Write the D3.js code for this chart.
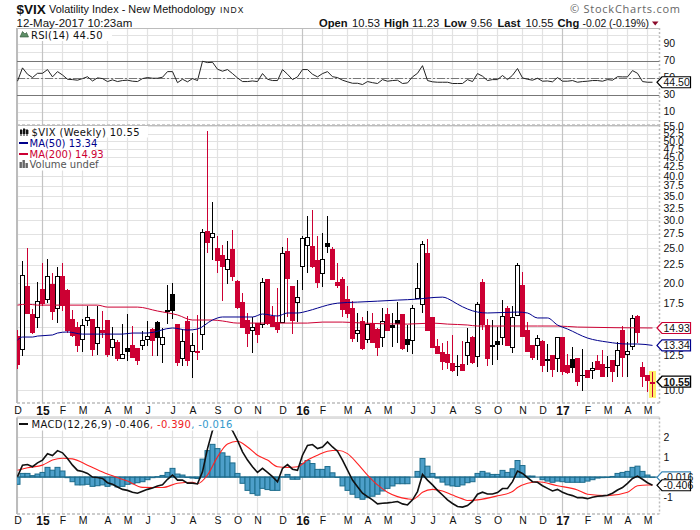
<!DOCTYPE html>
<html>
<head>
<meta charset="utf-8">
<script src="https://cdn.jsdelivr.net/npm/d3@7"></script>
<style>
html,body{margin:0;padding:0;background:#fff}
svg{display:block}
text{font-family:"Liberation Sans",Arial,sans-serif;fill:#111}
.leg{font-family:"DejaVu Sans",sans-serif;font-size:10px}
</style>
</head>
<body>
<svg id="c" width="700" height="530"></svg>
<script>
// ---------- DATA (weekly candles, Dec 2014 .. May 2017) ----------
const opens=[14.17,13.03,19.57,16.3,16,19.2,18,19.9,17,20.9,19.1,15.8,15,13.9,15.7,15.8,13.55,14.7,15.7,13.2,13.6,12.3,13.1,13.35,13.1,13.35,13.9,14.8,15.5,13.45,16.8,18.6,15.3,12.3,15.6,12.85,12.85,14.35,28,26.9,25,23.9,21.9,24.9,20.2,17.7,15.7,14.7,15.4,15.3,20.5,16.1,15.5,15.5,24.5,19.6,17.65,22.4,25.5,25.4,23.2,21.3,25.9,24.9,20.1,20.5,18,17,14.45,15.6,13.9,15.4,14.8,14.1,16.3,15.2,15.7,16.3,13.9,13.8,18.1,17.4,24.2,16,13.3,12.8,12.6,11.9,11.7,11.8,12.5,14.1,12.45,20.1,15.2,13.35,13.7,14.1,17,13.2,16.2,19.7,14.7,13.35,13.35,13.7,12.2,12.5,12.3,14.1,11.75,12.2,12.3,11.05,11.4,11.4,12.05,11.8,11.6,12.15,11.75,14.7,12.6,13.3,16.1,11.6,11,10.53];
const closes=[11.75,21,16.34,14.45,17.75,17.43,20.9,16.6,20.9,17.2,14.6,14.2,13.3,15.2,16,12.95,15,14.45,12.5,13.9,12.2,12.6,12.8,12.3,12.05,13.8,14.2,13.7,14,14.05,16.6,16.65,11.9,13.7,12.05,13.35,12.7,27.75,25.9,27.6,23,22.1,23.4,20.75,16.95,14.9,14.35,15,14.25,20.1,15.3,15,14.7,24.2,20.5,15.6,18.2,26.8,26.9,22.1,20,23.3,25.2,20.35,19.6,16.8,16.35,13.9,14.7,13,15.3,13.55,13.1,15.6,14.6,14.95,15.3,13,13.35,17,19.3,25.7,14.6,13.1,12.6,12,11.9,11.3,11.6,11.3,13.6,11.9,17.4,15.2,12.2,13.3,13.35,16.1,13.3,16,22.4,14.1,12.8,12.3,14,11.7,12.1,11.4,14.1,11.25,11.15,11.55,10.5,10.98,10.8,11.55,11.4,10.9,11.55,11.25,12.95,12.3,12.85,15.9,14.5,10.9,10.57,10.55];
const highs=[14.73,23,25,16.9,20.1,22.8,23.3,21.3,22.1,22.7,19.2,16.8,15.5,15.8,17.2,15.8,17.2,16.7,15.7,15,13.8,15.3,16.3,15.1,13.1,14.6,15.6,14.9,15.6,14.9,19.7,20,15.3,14.7,16.1,14.5,16.2,28.3,53.3,33.7,27.1,25.5,26.2,28.1,20.3,18.7,16.5,16,15.4,20.6,20.5,17.2,19.3,25.2,26.7,19.6,20.35,27,30.8,32,27.1,27.6,30.8,25.2,22.8,20.7,19.6,17.8,16.4,16,16.65,16.5,14.9,17,17,16.5,17.65,16.3,15.2,17.3,22.8,26.2,26.5,16,13.9,13.55,13.7,14.25,12.5,13.7,14.9,14.15,17.65,20.5,15.8,15.7,15,17.9,17.2,17.2,22.8,21.4,15.5,13.4,14.25,13.8,13.45,12.5,14.1,14.1,12.6,13.2,12.3,13,11.4,12,12.5,12.95,12.45,12.15,13.6,15.1,13.6,16.2,16.2,12,11,11.23];
const lows=[11.45,12.45,16.34,14.35,14.9,17.2,17.5,15.7,15.4,16.7,14.5,14.1,12.8,12.8,15.1,12.45,12.5,14,12.4,12.45,12.05,12.3,12.05,12.3,11.75,12.95,13.3,12.45,12.45,11.9,15.3,15.8,11.7,11.7,11.7,10.8,12.15,12.95,24.2,23.2,21.3,17.8,19.8,20.2,16.9,14.9,13.2,12.7,13.55,14.9,15.2,15,14.5,15.5,16,14.35,15.5,19.1,21.3,22,19.3,19.5,24.2,20.3,19.3,16,15.9,13.6,13.6,12.95,13.55,13.55,12.45,13.2,14.6,13.2,13.55,12.95,12.8,12.6,18.1,16.4,14.6,13.1,12.6,11.4,11.45,11.2,10.95,11.3,11.75,11.85,11.6,14.7,11.7,11.75,12.15,13.35,13.3,12.7,16.1,14.1,12.8,12.15,12.15,11.25,11.25,10.9,11.25,11,11.1,11.15,10.25,9.95,10.8,10.75,11.4,10.9,10.9,10.5,10.9,10.9,10.9,12.95,13.55,10.2,9.85,9.56];

const ma50Idx=[0,1,3,4,7,8,10,13,18,21,23,26,31,34,36,39,41,47,49,52,54,56,58,60,62,64,68,72,76,80,82,85,87,88,92,94,100,102,104,106,108,110,114,118,122,124,127];
const ma50Val=[13.81,14.08,14.08,14.17,14.27,14.45,14.55,14.35,14.35,14.35,14.45,14.45,14.93,14.73,14.83,15.72,16.03,16.03,16.34,16.13,16.45,16.45,16.66,16.98,17.31,17.53,17.65,17.76,17.88,18,18.12,18.23,17.76,17.42,16.55,16.45,16.55,16.45,15.93,15.93,15.22,14.83,13.99,13.63,13.46,13.46,13.34];
const ma200Idx=[0,2,4,16,18,24,28,32,35,39,41,44,46,50,58,61,65,69,78,83,86,90,92,98,104,108,112,127];
const ma200Val=[17.31,17.42,17.31,17.31,17.09,17.09,16.66,16.24,15.72,15.72,15.62,15.41,15.41,15.41,15.41,15.51,15.51,15.41,15.31,15.41,15.31,15.22,15.12,15.12,15.12,15.12,15.02,14.93];

const rsiVal=[45.7,61.4,53.9,50,55,55,59.4,50.8,57,53,48,47.6,46.9,48.8,51,46,49.6,48.8,45.3,47.3,45.3,46.5,46.9,45.7,45.3,48.8,50,49.2,49.2,50.4,57,57,44,48,45,48.8,46.5,69.2,67.6,68,59.8,57.5,59.4,54.7,49.6,45.3,45.3,46,45.3,54.7,48,46.5,46.5,59.4,53.9,47.6,50.8,59.4,59.4,53.9,50.8,54.7,57,51,50,46.9,45,43.3,43.3,41.8,45.3,44,43,47.6,45.7,46.5,46.9,43,43.7,50.8,55,64,46.5,45,44.5,44.5,44.5,43,43,43,47.6,45.3,54.7,51.6,46.5,47.6,47.6,52.4,47.6,52.7,60.6,49.6,48,46.9,49.2,45.7,46,45,50,45.7,45.7,46.5,44.5,45.3,45.7,46.5,46.5,45.7,47.6,46.9,51,50.8,50.8,58.2,55,45.3,44.5,44.5];

const macdVal=[0.02,0.59,0.62,0.51,0.7,0.84,1.16,1.07,1.31,1.2,0.92,0.59,0.33,0.28,0.18,0,-0.02,-0.07,-0.28,-0.36,-0.49,-0.61,-0.66,-0.75,-0.8,-0.7,-0.61,-0.54,-0.44,-0.38,-0.11,0.1,-0.15,-0.15,-0.3,-0.3,-0.34,0.26,1.41,2.31,2.6,2.7,2.55,2.3,1.82,1.25,0.84,0.51,0.23,0.43,0.23,0.02,-0.23,0.43,0.62,0.39,0.33,1.08,1.57,1.61,1.41,1.49,1.74,1.49,1.28,0.84,0.34,-0.15,-0.48,-0.8,-0.97,-1.13,-1.33,-1.3,-1.28,-1.25,-1.21,-1.33,-1.38,-1.13,-0.72,0.13,-0.15,-0.39,-0.66,-0.89,-1.13,-1.31,-1.46,-1.49,-1.41,-1.21,-0.85,-0.75,-0.84,-0.84,-0.77,-0.57,-0.56,-0.23,0.3,0.18,-0.03,-0.23,-0.26,-0.43,-0.56,-0.69,-0.61,-0.75,-0.85,-0.92,-1.02,-1.02,-1.07,-1,-0.95,-0.93,-0.9,-0.8,-0.64,-0.52,-0.31,-0.07,0.05,-0.11,-0.28,-0.406];
const signalIdx=[0,2,5,7,9,11,14,18,22,25,29,32,35,36,38,40,42,44,46,48,50,52,54,56,58,60,62,64,66,68,70,72,74,76,78,79,80,81,83,85,87,89,90,92,96,99,100,102,104,108,112,114,118,122,124,126,127];
const signalVal=[0.34,0.46,0.59,0.84,0.93,0.9,0.59,0.15,-0.2,-0.51,-0.52,-0.31,-0.26,-0.33,0.1,1,1.64,1.77,1.49,1.08,0.84,0.51,0.48,0.51,0.84,1.08,1.28,1.33,1.16,0.67,0.1,-0.39,-0.75,-0.97,-1.08,-1.11,-0.97,-0.75,-0.61,-0.69,-0.89,-1.08,-1.16,-1.13,-0.93,-0.72,-0.52,-0.31,-0.23,-0.43,-0.64,-0.85,-0.92,-0.75,-0.43,-0.39,-0.39];
const histVal=[-0.36,0.18,0.18,0.07,0.15,0.23,0.48,0.34,0.48,0.3,-0.03,-0.23,-0.39,-0.39,-0.36,-0.46,-0.43,-0.39,-0.46,-0.39,-0.49,-0.46,-0.36,-0.33,-0.28,-0.23,-0.13,-0.03,0.02,0.08,0.23,0.43,0.15,0.1,-0.02,-0.05,-0.07,0.89,1.31,1.62,1.41,1.2,1.03,0.7,0.18,-0.31,-0.66,-0.82,-0.9,-0.56,-0.62,-0.66,-0.66,0.01,0.13,-0.11,-0.11,0.67,0.82,0.67,0.38,0.38,0.52,0.21,-0.02,-0.44,-0.66,-0.85,-1.02,-1.1,-1.02,-0.95,-0.85,-0.69,-0.56,-0.44,-0.33,-0.33,-0.33,0,0.28,0.92,0.54,0.18,-0.05,-0.25,-0.39,-0.44,-0.46,-0.39,-0.28,-0.23,0.18,0.28,0.2,0.13,0.13,0.33,0.23,0.41,0.82,0.57,0.05,0.05,0,-0.13,-0.2,-0.26,-0.2,-0.23,-0.26,-0.26,-0.26,-0.26,-0.2,-0.13,-0.05,-0.03,-0.02,0.03,0.18,0.23,0.28,0.48,0.54,0.28,0.1,-0.016];

const monthIdx=[0,5,9,13,18,22,26,31,35,40,44,48,53,57,61,66,70,74,79,83,87,92,96,101,105,109,114,118,122,126];
const monthLabels=["D","15","F","M","A","M","J","J","A","S","O","N","D","16","F","M","A","M","J","J","A","S","O","N","D","17","F","M","A","M"];
const priceGrid=[10,12.5,15,17.5,20,22.5,25,27.5,30,32.5,35,37.5,40,42.5,45,47.5,50,52.5,55];
const priceTicks=[10,12.5,17.5,20,22.5,25,27.5,30,32.5,35,37.5,40,42.5,45,47.5,50,52.5,55];
const rsiGrid=[0,10,20,30,40,50,60,70,80,90,100];
const rsiTicks=[10,30,50,70,90];
const macdGrid=[-1,0,1,2,3];
const macdTicks=[-1,1,2];

// ---------- SCALES ----------
const L=17, R=659.5;
const T1=28,B1=125, T2=125,B2=403, T3=417.5,B3=514;
const x=d3.scaleLinear().domain([0,127]).range([17.5,652.5]);
const yP=d3.scaleLog().domain([9.19,55.5]).range([B2,T2]);
const yR=d3.scaleLinear().domain([-5.8,108.3]).range([B1,T1]);
const yM=d3.scaleLinear().domain([-1.83,2.95]).range([B3,T3]);

const svg=d3.select("#c");
const defs=svg.append("defs");
[["cp2",T2,B2],["cp3",T3,B3],["cp1",T1,B1]].forEach(([id,a,b])=>{
  defs.append("clipPath").attr("id",id).append("rect").attr("x",L).attr("y",a).attr("width",R-L).attr("height",b-a);
});

// ---------- GRIDS ----------
const GRID="#e2e2e2", YEAR="#c4c4c4", EDGE="#bcbcbc";
function panel(top,bottom,scale,vals){
  const g=svg.append("g");
  g.selectAll("line.h").data(vals).join("line").attr("x1",L).attr("x2",R)
    .attr("y1",d=>Math.round(scale(d))+.5).attr("y2",d=>Math.round(scale(d))+.5)
    .attr("stroke",GRID).attr("stroke-width",1.2);
  g.selectAll("line.v").data(monthIdx).join("line")
    .attr("x1",d=>x(d)).attr("x2",d=>x(d)).attr("y1",top).attr("y2",bottom)
    .attr("stroke",(d,i)=>/\d/.test(monthLabels[i])?YEAR:GRID).attr("stroke-width",1.2);
  g.append("line").attr("x1",L).attr("x2",R).attr("y1",top+.5).attr("y2",top+.5).attr("stroke",EDGE);
  g.append("line").attr("x1",L).attr("x2",R).attr("y1",bottom).attr("y2",bottom).attr("stroke",EDGE).attr("stroke-width",1.5).attr("stroke-dasharray","3 2");
  g.append("line").attr("x1",L).attr("x2",L).attr("y1",top).attr("y2",bottom).attr("stroke",EDGE).attr("stroke-width",2);
  g.append("line").attr("x1",R).attr("x2",R).attr("y1",top).attr("y2",bottom).attr("stroke",EDGE).attr("stroke-width",1.5).attr("stroke-dasharray","2 2");
}
panel(T1,B1,yR,rsiGrid);
panel(T2,B2,yP,priceGrid);
panel(T3,B3,yM,macdGrid);

// ---------- AXES ----------
function styleAxis(g){
  g.select(".domain").remove();
  g.selectAll("line").remove();
  g.selectAll("text").attr("font-size","10.5px").style("font-family",'"Liberation Sans",Arial,sans-serif').attr("fill","#111");
}
svg.append("g").attr("transform",`translate(${R},0)`).call(d3.axisRight(yR).tickValues(rsiTicks).tickSize(0).tickPadding(4)).call(styleAxis);
svg.append("g").attr("transform",`translate(${R},0)`).call(d3.axisRight(yP).tickValues(priceTicks).tickFormat(d3.format(".1f")).tickSize(0).tickPadding(4)).call(styleAxis);
svg.append("g").attr("transform",`translate(${R},0)`).call(d3.axisRight(yM).tickValues(macdTicks).tickFormat(d=>String(d)).tickSize(0).tickPadding(4)).call(styleAxis);
function monthAxis(y){
  svg.append("g").attr("transform",`translate(0,${y})`)
    .call(d3.axisBottom(x).tickValues(monthIdx).tickFormat((d,i)=>monthLabels[i]).tickSize(0).tickPadding(0))
    .call(styleAxis)
    .selectAll("text").each(function(d,i){
      const yr=/\d/.test(monthLabels[i]);
      d3.select(this).attr("font-weight",yr?"bold":"normal").attr("font-size",yr?"12px":"10.5px");
    });
}
monthAxis(406.3);
monthAxis(516.8);

// ---------- RSI ----------
const rg=svg.append("g").attr("clip-path","url(#cp1)");
[70,30].forEach(v=>rg.append("line").attr("x1",L).attr("x2",R).attr("y1",Math.round(yR(v))+.5).attr("y2",Math.round(yR(v))+.5).attr("stroke","#777").attr("stroke-width",1));
rg.append("line").attr("x1",L).attr("x2",R).attr("y1",Math.round(yR(50))+.5).attr("y2",Math.round(yR(50))+.5).attr("stroke","#777").attr("stroke-dasharray","8 2 2 2");
rg.append("path").datum(rsiVal).attr("fill","none").attr("stroke","#222").attr("stroke-width",1)
  .attr("d",d3.line().x((d,i)=>x(i)).y(d=>yR(d)));

// ---------- PRICE ----------
const pg=svg.append("g").attr("clip-path","url(#cp2)");
const RED="#cc0033";
const last=closes.length-1;
pg.append("rect").attr("x",x(last)-3.5).attr("width",7)
  .attr("y",yP(highs[last])-1).attr("height",yP(lows[last])-yP(highs[last])+2).attr("fill","#fff06a");
const color=i=> (i>0 && closes[i]<closes[i-1]) || i===0 ? RED : "#000";
const cg=pg.selectAll("g.c").data(d3.range(closes.length)).join("g").attr("shape-rendering","crispEdges");
cg.append("line").attr("x1",i=>x(i)).attr("x2",i=>x(i))
  .attr("y1",i=>yP(highs[i])).attr("y2",i=>yP(lows[i])).attr("stroke",color);
cg.append("rect")
  .each(function(i){
    const hollow=closes[i]>=opens[i];
    const t=yP(Math.max(opens[i],closes[i])), b=yP(Math.min(opens[i],closes[i]));
    const r=d3.select(this);
    if(hollow){
      r.attr("x",x(i)-2.5+.5).attr("width",4).attr("y",Math.round(t)+.5).attr("height",Math.max(1,Math.round(b-t)))
       .attr("fill",i===last?"none":"#fff").attr("stroke",color(i));
    }else{
      r.attr("x",x(i)-2.5).attr("width",5).attr("y",t).attr("height",Math.max(1.5,b-t)).attr("fill",color(i));
    }
  });
const lineIdx=(scale)=>d3.line().x(d=>x(d[0])).y(d=>scale(d[1])).curve(d3.curveMonotoneX);
pg.append("path").datum(d3.zip(ma200Idx,ma200Val)).attr("fill","none").attr("stroke",RED).attr("stroke-width",1).attr("d",lineIdx(yP));
pg.append("path").datum(d3.zip(ma50Idx,ma50Val)).attr("fill","none").attr("stroke","#00008b").attr("stroke-width",1).attr("d",lineIdx(yP));

// ---------- MACD ----------
const mg=svg.append("g").attr("clip-path","url(#cp3)");
mg.selectAll("rect").data(histVal).join("rect")
  .attr("x",(d,i)=>x(i)-2.5).attr("width",5)
  .attr("y",d=>Math.min(yM(d),yM(0))).attr("height",d=>Math.abs(yM(d)-yM(0)))
  .attr("fill","#4d9fc9").attr("stroke","#1d6c8c").attr("stroke-width",1);
mg.append("line").attr("x1",L).attr("x2",R).attr("y1",yM(0)).attr("y2",yM(0)).attr("stroke","#1d6c8c");
mg.append("path").datum(d3.zip(signalIdx,signalVal)).attr("fill","none").attr("stroke","#ff2222").attr("stroke-width",1.1).attr("d",lineIdx(yM));
mg.append("path").datum(macdVal).attr("fill","none").attr("stroke","#111").attr("stroke-width",1.6)
  .attr("d",d3.line().x((d,i)=>x(i)).y(d=>yM(d)));

// ---------- VALUE TAGS ----------
function tag(y,txt,col,bold){
  const g=svg.append("g");
  g.append("path").attr("d",`M657 ${y} L662 ${y-5.5} H690.5 V${y+5.5} H662 Z`).attr("fill","#fff").attr("stroke",col).attr("stroke-width",bold?1.4:1.2);
  g.append("text").attr("x",663.5).attr("y",y+3.9).attr("font-size","10.5px").attr("font-weight",bold?"bold":"normal").text(txt);
}
tag(yR(rsiVal[last]),"44.50","#000");
tag(yP(ma200Val[ma200Val.length-1]),"14.93",RED);
tag(yP(ma50Val[ma50Val.length-1]),"13.34","#00008b");
tag(yP(closes[last]),"10.55","#000",true);
tag(yM(histVal[last]),"-0.016","#3a86b5");
tag(yM(macdVal[last]),"-0.406","#000");

// ---------- LEGENDS ----------
function legBg(x0,y0,w,h){svg.append("rect").attr("x",x0).attr("y",y0).attr("width",w).attr("height",h).attr("fill","#fff");}
legBg(18,29,94,12);
svg.append("path").attr("d","M20 37 L22.5 31.5 L25 34 L26.5 32.5 L28.5 37 Z").attr("fill","#5f8f68").attr("stroke","#2c5233").attr("stroke-width",.6);
svg.append("text").attr("class","leg").attr("x",31).attr("y",39).attr("letter-spacing",".25").text("RSI(14) 44.50");

legBg(18,126,130,11.5);legBg(18,137.5,77,33);
[[20,2,3],[23,1,4],[26,2,3]].forEach(([a,b,c])=>{
  svg.append("line").attr("x1",a+1).attr("x2",a+1).attr("y1",128+b-1).attr("y2",128+b+c+3).attr("stroke","#111");
  svg.append("rect").attr("x",a).attr("y",128+b).attr("width",2.4).attr("height",c+1).attr("fill","#111");
});
svg.append("text").attr("class","leg").attr("x",31.5).attr("y",136).attr("letter-spacing",".35").text("$VIX (Weekly) 10.55");
svg.append("line").attr("x1",19).attr("x2",28).attr("y1",143).attr("y2",143).attr("stroke","#00008b").attr("stroke-width",2);
svg.append("text").attr("class","leg").attr("x",29.5).attr("y",147).style("fill","#00008b").text("MA(50) 13.34");
svg.append("line").attr("x1",19).attr("x2",28).attr("y1",154).attr("y2",154).attr("stroke",RED).attr("stroke-width",2);
svg.append("text").attr("class","leg").attr("x",29.5).attr("y",158).style("fill",RED).text("MA(200) 14.93");
[[19.5,6],[22.5,8],[25.5,5]].forEach(([a,h])=>svg.append("rect").attr("x",a).attr("y",168-h).attr("width",2.4).attr("height",h).attr("fill","#666"));
svg.append("text").attr("class","leg").attr("x",29.5).attr("y",168).style("fill","#555").text("Volume undef");

legBg(18,419,250,11.5);
svg.append("line").attr("x1",19).attr("x2",28).attr("y1",424).attr("y2",424).attr("stroke","#111").attr("stroke-width",2);
const mt=svg.append("text").attr("class","leg").attr("x",31.5).attr("y",428).attr("letter-spacing",".35");
mt.append("tspan").text("MACD(12,26,9) -0.406");
mt.append("tspan").style("fill","#ee2222").text(", -0.390");
mt.append("tspan").style("fill","#3399cc").text(", -0.016");

// ---------- HEADER ----------
svg.append("text").attr("x",16.5).attr("y",14).attr("font-size","13.5px").attr("font-weight","bold").text("$VIX");
svg.append("text").attr("x",49).attr("y",12.5).attr("font-size","10.9px").text("Volatility Index - New Methodology");
svg.append("text").attr("x",220).attr("y",12.5).attr("font-size","8.5px").attr("letter-spacing","1").text("INDX");
svg.append("text").attr("x",16.5).attr("y",26.5).attr("font-size","11.5px").text("12-May-2017 10:23am");
const hdr=[[319,"Open",1],[352,"10.53",0],[384,"High",1],[412,"11.23",0],[444,"Low",1],[470.5,"9.56",0],[497.5,"Last",1],[525.5,"10.55",0],[557.5,"Chg",1],[582.5,"-0.02 (-0.19%)",0]];
hdr.forEach(([a,t,b])=>svg.append("text").attr("x",a).attr("y",26.5).attr("font-size",t.length>6?"10.4px":"11.2px").attr("font-weight",b?"bold":"normal").text(t));
svg.append("path").attr("d","M652 21.5 H658.5 L655.2 25.5 Z").attr("fill","#8b0a2a");
svg.append("text").attr("x",570).attr("y",13).attr("font-size","11px").attr("letter-spacing",".75").style("font-family",'"Open Sans",sans-serif').style("fill","#666").text("\u00A9 StockCharts.com");
</script>
</body>
</html>
